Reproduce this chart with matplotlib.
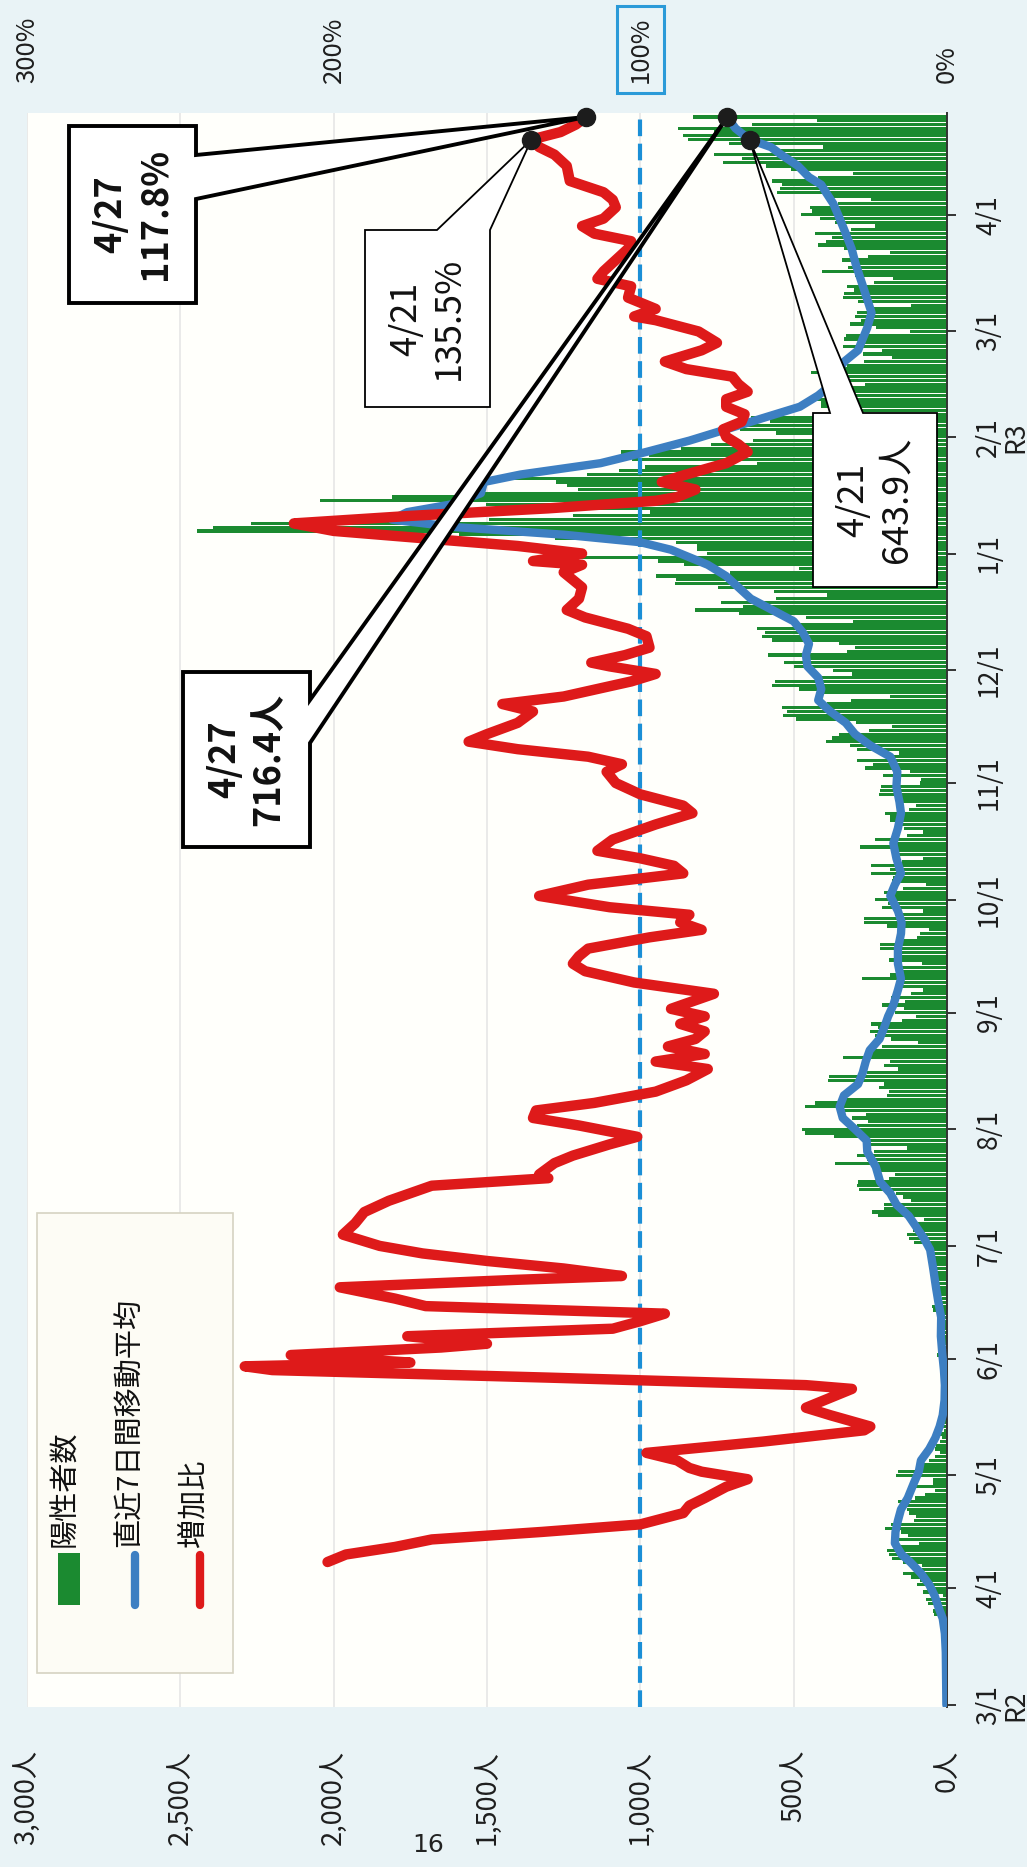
import pandas as pd
import matplotlib
matplotlib.use("Agg")
import matplotlib.pyplot as plt
import matplotlib.dates as mdates
from matplotlib.patches import Polygon, Rectangle
from matplotlib.lines import Line2D

plt.rcParams['font.family'] = ['Noto Sans CJK JP', 'DejaVu Sans']

GREEN = '#1b8a30'
BLUE = '#3d7fc2'
RED = '#de1a1a'
DASH = '#1b8fd6'

# daily positive cases, 2020-03-01 .. 2021-04-27
daily_cases = [
    3, 3, 1, 8, 8, 6, 3, 2, 0, 2, 6, 2, 2, 5, 3, 0, 5, 9, 7, 11, 7, 3, 16, 17, 41, 47, 40, 63, 68, 13, 78,
    66, 97, 89, 116, 143, 83, 80, 144, 178, 189, 197, 166, 91, 161, 127, 149, 201, 181, 107, 102, 123, 132, 134, 161, 103, 72, 39, 112, 47, 46,
    165, 160, 91, 87, 58, 38, 23, 39, 36, 22, 15, 28, 10, 30, 9, 11, 5, 10, 5, 5, 11, 3, 2, 14, 8, 10, 11, 15, 22, 14, 5,
    13, 34, 12, 28, 20, 26, 14, 13, 12, 18, 22, 25, 24, 47, 48, 27, 16, 41, 35, 39, 35, 29, 31, 55, 48, 54, 57, 60, 58, 54,
    67, 107, 124, 131, 111, 102, 106, 75, 224, 243, 206, 206, 119, 143, 165, 286, 293, 290, 188, 168, 237, 238, 366, 260, 295, 239, 131, 266, 250, 367, 463,
    472, 292, 258, 309, 263, 360, 462, 429, 331, 197, 188, 222, 206, 389, 385, 260, 161, 207, 186, 339, 258, 256, 212, 95, 182, 236, 250, 226, 247, 148, 100,
    170, 141, 211, 136, 181, 116, 77, 170, 149, 276, 187, 146, 146, 80, 189, 163, 172, 220, 218, 150, 98, 88, 59, 195, 270, 270, 171, 78, 212, 194,
    235, 196, 207, 143, 70, 179, 177, 248, 186, 249, 146, 78, 166, 177, 284, 184, 235, 132, 78, 139, 150, 185, 186, 203, 124, 102, 158, 171, 221, 218, 215,
    87, 84, 209, 122, 269, 242, 294, 189, 157, 293, 317, 393, 374, 352, 255, 180, 298, 493, 534, 522, 539, 391, 314, 186, 401, 481, 570, 561, 418, 311,
    372, 500, 533, 449, 584, 327, 299, 352, 572, 602, 595, 621, 480, 305, 460, 678, 822, 664, 736, 556, 392, 563, 748, 888, 884, 949, 708, 481, 856, 944, 1337,
    783, 814, 816, 884, 1278, 1591, 2447, 2392, 2268, 1494, 1219, 970, 1433, 1502, 2044, 1809, 1592, 1204, 1240, 1274, 1471, 1175, 1070, 986, 618, 1026, 973, 1064, 868, 769, 633,
    393, 556, 676, 734, 577, 639, 429, 276, 412, 412, 434, 307, 369, 371, 266, 378, 378, 445, 353, 327, 272, 178, 275, 213, 340, 270, 337, 329,
    121, 232, 316, 279, 301, 293, 237, 116, 290, 340, 335, 304, 326, 239, 175, 300, 409, 323, 303, 342, 256, 187, 337, 420, 394, 376, 430, 313, 234, 364, 414,
    475, 440, 446, 355, 249, 399, 555, 545, 537, 570, 421, 306, 510, 591, 729, 667, 759, 543, 405, 711, 843, 861, 759, 876, 635, 425, 828,
]
case_days = pd.date_range('2020-03-01', '2021-04-27', freq='D')

# 7-day moving average
avg_dates = [
    '2020-03-01', '2020-03-08', '2020-03-15', '2020-03-20', '2020-03-24', '2020-03-27', '2020-03-30',
    '2020-04-02', '2020-04-05', '2020-04-08', '2020-04-10', '2020-04-13', '2020-04-16', '2020-04-19',
    '2020-04-22', '2020-04-25', '2020-04-29', '2020-05-02', '2020-05-05', '2020-05-08', '2020-05-11',
    '2020-05-14', '2020-05-17', '2020-05-21', '2020-05-25', '2020-05-29', '2020-06-02', '2020-06-07',
    '2020-06-12', '2020-06-16', '2020-06-20', '2020-06-25', '2020-06-30', '2020-07-03', '2020-07-06',
    '2020-07-09', '2020-07-12', '2020-07-15', '2020-07-18', '2020-07-22', '2020-07-26', '2020-07-29',
    '2020-08-01', '2020-08-04', '2020-08-07', '2020-08-10', '2020-08-13', '2020-08-16', '2020-08-19',
    '2020-08-22', '2020-08-25', '2020-08-28', '2020-08-31', '2020-09-03', '2020-09-07', '2020-09-10',
    '2020-09-14', '2020-09-18', '2020-09-22', '2020-09-25', '2020-09-28', '2020-10-02', '2020-10-05',
    '2020-10-08', '2020-10-12', '2020-10-16', '2020-10-20', '2020-10-24', '2020-10-27', '2020-10-31',
    '2020-11-04', '2020-11-08', '2020-11-11', '2020-11-14', '2020-11-17', '2020-11-20', '2020-11-23',
    '2020-11-26', '2020-11-29', '2020-12-02', '2020-12-05', '2020-12-08', '2020-12-11', '2020-12-14',
    '2020-12-17', '2020-12-20', '2020-12-23', '2020-12-26', '2020-12-29', '2020-12-31', '2021-01-02',
    '2021-01-04', '2021-01-06', '2021-01-08', '2021-01-10', '2021-01-12', '2021-01-14', '2021-01-17',
    '2021-01-20', '2021-01-22', '2021-01-25', '2021-01-28', '2021-01-31', '2021-02-03', '2021-02-06',
    '2021-02-09', '2021-02-12', '2021-02-15', '2021-02-18', '2021-02-21', '2021-02-24', '2021-02-27',
    '2021-03-02', '2021-03-06', '2021-03-10', '2021-03-15', '2021-03-19', '2021-03-23', '2021-03-27',
    '2021-04-01', '2021-04-04', '2021-04-07', '2021-04-09', '2021-04-11', '2021-04-14', '2021-04-17',
    '2021-04-19', '2021-04-21', '2021-04-24', '2021-04-27',
]
avg_cases = [
    2, 3, 4, 7, 14, 28, 40,
    58, 85, 120, 148, 170, 168, 160,
    150, 128, 108, 92, 85, 58, 38,
    24, 14, 8, 7, 10, 15, 20,
    19, 28, 36, 45, 55, 75, 100,
    125, 165, 185, 218, 232, 260, 262,
    300, 340, 350, 336, 290, 275, 265,
    252, 220, 205, 192, 175, 160, 150,
    160, 160, 150, 148, 160, 185, 170,
    150, 165, 175, 160, 150, 155, 165,
    162, 185, 250, 300, 330, 380, 420,
    410, 420, 455, 460, 450, 470, 500,
    570, 640, 680, 720, 780, 840, 900,
    1000, 1250, 1600, 1810, 1760, 1620, 1520,
    1510, 1390, 1130, 980, 840, 720, 600,
    480, 420, 375, 360, 335, 290, 275,
    260, 246, 262, 282, 298, 311, 330,
    355, 371, 395, 410, 450, 486, 541,
    574, 643.9, 690, 716.4,
]

# week-on-week increase ratio (%)
ratio_dates = [
    '2020-04-08', '2020-04-10', '2020-04-12', '2020-04-14', '2020-04-16', '2020-04-18', '2020-04-21',
    '2020-04-23', '2020-04-25', '2020-04-28', '2020-04-30', '2020-05-02', '2020-05-03', '2020-05-05',
    '2020-05-07', '2020-05-10', '2020-05-13', '2020-05-14', '2020-05-17', '2020-05-19', '2020-05-21',
    '2020-05-24', '2020-05-25', '2020-05-27', '2020-05-29', '2020-05-30', '2020-05-31', '2020-06-02',
    '2020-06-04', '2020-06-05', '2020-06-07', '2020-06-09', '2020-06-11', '2020-06-13', '2020-06-15',
    '2020-06-17', '2020-06-20', '2020-06-22', '2020-06-23', '2020-06-25', '2020-06-27', '2020-06-29',
    '2020-07-01', '2020-07-04', '2020-07-07', '2020-07-10', '2020-07-13', '2020-07-15', '2020-07-17',
    '2020-07-19', '2020-07-20', '2020-07-23', '2020-07-25', '2020-07-28', '2020-07-30', '2020-08-02',
    '2020-08-04', '2020-08-06', '2020-08-08', '2020-08-11', '2020-08-14', '2020-08-17', '2020-08-19',
    '2020-08-21', '2020-08-23', '2020-08-25', '2020-08-27', '2020-08-29', '2020-08-31', '2020-09-02',
    '2020-09-06', '2020-09-09', '2020-09-12', '2020-09-14', '2020-09-16', '2020-09-18', '2020-09-21',
    '2020-09-23', '2020-09-25', '2020-09-27', '2020-09-29', '2020-10-02', '2020-10-05', '2020-10-08',
    '2020-10-10', '2020-10-12', '2020-10-14', '2020-10-17', '2020-10-21', '2020-10-24', '2020-10-26',
    '2020-10-29', '2020-11-01', '2020-11-04', '2020-11-06', '2020-11-08', '2020-11-10', '2020-11-12',
    '2020-11-14', '2020-11-17', '2020-11-20', '2020-11-22', '2020-11-24', '2020-11-26', '2020-11-28',
    '2020-11-30', '2020-12-02', '2020-12-03', '2020-12-05', '2020-12-07', '2020-12-10', '2020-12-12',
    '2020-12-15', '2020-12-17', '2020-12-20', '2020-12-23', '2020-12-25', '2020-12-27', '2020-12-29',
    '2020-12-30', '2021-01-01', '2021-01-03', '2021-01-05', '2021-01-07', '2021-01-09', '2021-01-11',
    '2021-01-13', '2021-01-15', '2021-01-16', '2021-01-18', '2021-01-20', '2021-01-22', '2021-01-25',
    '2021-01-28', '2021-01-30', '2021-02-01', '2021-02-03', '2021-02-05', '2021-02-07', '2021-02-09',
    '2021-02-11', '2021-02-13', '2021-02-15', '2021-02-17', '2021-02-19', '2021-02-21', '2021-02-24',
    '2021-02-26', '2021-03-01', '2021-03-04', '2021-03-05', '2021-03-07', '2021-03-10', '2021-03-13',
    '2021-03-15', '2021-03-17', '2021-03-20', '2021-03-23', '2021-03-25', '2021-03-27', '2021-03-29',
    '2021-03-31', '2021-04-03', '2021-04-05', '2021-04-07', '2021-04-10', '2021-04-14', '2021-04-17',
    '2021-04-19', '2021-04-21', '2021-04-23', '2021-04-25', '2021-04-27',
]
ratio_pct = [
    202, 196, 180, 168, 132, 100, 86,
    84, 79, 72, 65, 80, 84, 88,
    98, 60, 27, 25, 38, 46, 40,
    31, 46, 130, 220, 229, 175, 214,
    165, 150, 176, 109, 100, 92, 170,
    180, 198, 140, 106, 125, 150, 171,
    185, 197, 193, 190, 182, 175, 168,
    130, 133, 128, 122, 110, 101, 120,
    135, 134, 115, 95, 85, 78, 95,
    79, 91, 82, 79, 87, 79, 90,
    76, 102, 118, 122, 120, 117, 97,
    80, 87, 84, 110, 133, 117, 86,
    89, 100, 114, 109, 95, 83, 86,
    100, 108, 111, 106, 117, 140, 156,
    150, 140, 135, 145, 125, 114, 103,
    95, 110, 116, 105, 97, 98, 104,
    118, 124, 120, 119, 122, 125, 119,
    135, 119, 140, 170, 200, 213, 175,
    130, 95, 88, 82, 93, 85, 72,
    65, 68, 72, 73, 67, 66, 72,
    72, 65, 68, 70, 85, 92, 80,
    75, 81, 95, 102, 95, 104, 103,
    114, 112, 108, 104, 103, 115, 119,
    112, 108, 109, 112, 123, 124, 128,
    133, 135.5, 126, 121, 117.8,
]

count_ticks = [0, 500, 1000, 1500, 2000, 2500, 3000]
pct_ticks = [0, 100, 200, 300]
month_starts = pd.date_range('2020-03-01', '2021-04-01', freq='MS')
month_labels = ['3/1\nR2', '4/1', '5/1', '6/1', '7/1', '8/1', '9/1', '10/1',
                '11/1', '12/1', '1/1', '2/1\nR3', '3/1', '4/1']

W, H = 1027, 1867
fig = plt.figure(figsize=(W / 100, H / 100), dpi=100)
fig.patch.set_facecolor('#e9f3f6')


def px(x, y):
    # page pixel (from top-left) -> figure fraction
    return x / W, 1 - y / H


left, top = px(27, 113)
right, bottom = px(947, 1707)
ax = fig.add_axes([left, bottom, right - left, top - bottom])
ax.set_facecolor('#fffffb')

ax.barh(mdates.date2num(case_days), daily_cases, height=0.86, color=GREEN, zorder=2)
ax.axvline(1000, color=DASH, lw=3, linestyle=(0, (4, 1.8)), zorder=3)
ax.plot(avg_cases, mdates.date2num(pd.to_datetime(avg_dates)), color=BLUE, lw=6,
        solid_capstyle='round', solid_joinstyle='round', zorder=4)

d0 = mdates.date2num(pd.Timestamp('2020-03-01'))
d1 = mdates.date2num(pd.Timestamp('2021-04-27'))
ax.set_xlim(3000, 0)
ax.set_ylim(d0 - 0.53, d1 + 1.06)

ax.set_axisbelow(True)
ax.grid(axis='x', color='#e6e6e6', lw=1.2)
ax.grid(axis='y', visible=False)
for s in ['top', 'left', 'bottom']:
    ax.spines[s].set_visible(False)
ax.spines['right'].set_color('#333333')
ax.spines['right'].set_linewidth(1.4)

ax.set_xticks(count_ticks)
ax.set_xticklabels([f'{v:,}人' for v in count_ticks])
ax.tick_params(axis='x', length=0, pad=31, labelsize=19.5, labelrotation=90, labelcolor='#1e1e1e')

ax.yaxis.tick_right()
ax.set_yticks(mdates.date2num(month_starts))
ax.set_yticklabels(month_labels)
ax.tick_params(axis='y', direction='out', length=6.5, width=1.4, color='#333333',
               pad=14, labelsize=19, labelrotation=90, labelcolor='#1e1e1e')
for lbl in ax.get_yticklabels():
    lbl.set_verticalalignment('center')
    lbl.set_multialignment('center')
    lbl.set_linespacing(1.0)

# increase ratio on its own percent scale (100% = 1,000人)
ax2 = ax.twiny()
ax2.set_xlim(300, 0)
ax2.plot(ratio_pct, mdates.date2num(pd.to_datetime(ratio_dates)), color=RED, lw=7.5,
         solid_capstyle='round', solid_joinstyle='round', zorder=5)
for s in ax2.spines.values():
    s.set_visible(False)
ax2.set_xticks(pct_ticks)
ax2.set_xticklabels([f'{v}%' for v in pct_ticks])
ax2.tick_params(axis='x', length=0, pad=21.5, labelsize=18.5, labelrotation=90, labelcolor='#1e1e1e')
ax2.get_xticklabels()[1].set_bbox(dict(boxstyle='square,pad=0.4', fc='none', ec='#2b9ad8', lw=2.2))


def to_fig(axis, x, y):
    return fig.transFigure.inverted().transform(axis.transData.transform((x, y)))


def callout(box, side, base, tip, text, bold):
    x0, y0, x1, y1 = box
    tx, ty = tip
    if side == 'right':
        pts = [(x0, y0), (x1, y0), (x1, base[0]), None, (x1, base[1]), (x1, y1), (x0, y1)]
    else:
        pts = [(x0, y0), (base[0], y0), None, (base[1], y0), (x1, y0), (x1, y1), (x0, y1)]
    verts = [(tx, ty) if p is None else px(*p) for p in pts]
    lw = 2.8 if bold else 1.3
    ax2.add_patch(Polygon(verts, closed=True, transform=fig.transFigure, fc='white',
                          ec='black', lw=lw, joinstyle='miter', zorder=10, clip_on=False))
    cx, cy = px((x0 + x1) / 2, (y0 + y1) / 2)
    ax2.text(cx, cy, text, transform=fig.transFigure, rotation=90, ha='center', va='center',
             multialignment='center', linespacing=1.25, fontsize=26,
             fontweight='bold' if bold else 'normal', color='#111111', zorder=11)


last_day = mdates.date2num(pd.Timestamp('2021-04-27'))
mark_day = mdates.date2num(pd.Timestamp('2021-04-21'))

callout((69, 126, 196, 303), 'right', (155, 199), to_fig(ax2, 117.8, last_day), '4/27\n117.8%', True)
callout((365, 230, 490, 407), 'top', (437, 490), to_fig(ax2, 135.5, mark_day), '4/21\n135.5%', False)
callout((183, 672, 310, 847), 'right', (700, 743), to_fig(ax, 716.4, last_day), '4/27\n716.4人', True)
callout((813, 413, 937, 587), 'top', (830, 863), to_fig(ax, 643.9, mark_day), '4/21\n643.9人', False)

dot = dict(marker='o', ms=13, color='#1c1c1c', ls='none', zorder=12, clip_on=False)
ax2.plot([117.8, 135.5], [last_day, mark_day], **dot)
ax2.plot([716.4, 643.9], [last_day, mark_day], transform=ax.transData, **dot)

# legend, drawn upright in the rotated frame
lx0, ly0 = px(37, 1673)
lx1, ly1 = px(233, 1213)
ax2.add_patch(Rectangle((lx0, ly0), lx1 - lx0, ly1 - ly0, transform=fig.transFigure,
                        fc='#fdfcf5', ec='#d6d3c2', lw=1.2, zorder=13, clip_on=False))
gx0, gy0 = px(58, 1605)
gx1, gy1 = px(80, 1553)
ax2.add_patch(Rectangle((gx0, gy0), gx1 - gx0, gy1 - gy0, transform=fig.transFigure,
                        fc=GREEN, ec='none', zorder=14, clip_on=False))
for xpos, col in [(135, BLUE), (200, RED)]:
    (ax_, ay0), (_, ay1) = px(xpos, 1605), px(xpos, 1555)
    ax2.add_line(Line2D([ax_, ax_], [ay0, ay1], transform=fig.transFigure, color=col, lw=6,
                        solid_capstyle='round', zorder=14, clip_on=False))
for xpos, name in [(65, '陽性者数'), (130, '直近7日間移動平均'), (194, '増加比')]:
    tx, ty = px(xpos, 1547)
    ax2.text(tx, ty, name, transform=fig.transFigure, rotation=90, rotation_mode='anchor',
             ha='left', va='center', fontsize=21, color='#111111', zorder=14)

fig.text(*px(428, 1845), '16', fontsize=18, ha='center', va='center', color='#222222',
         family=['Liberation Sans Narrow', 'DejaVu Sans'])

fig.savefig('out.png', dpi=100, facecolor=fig.get_facecolor())
